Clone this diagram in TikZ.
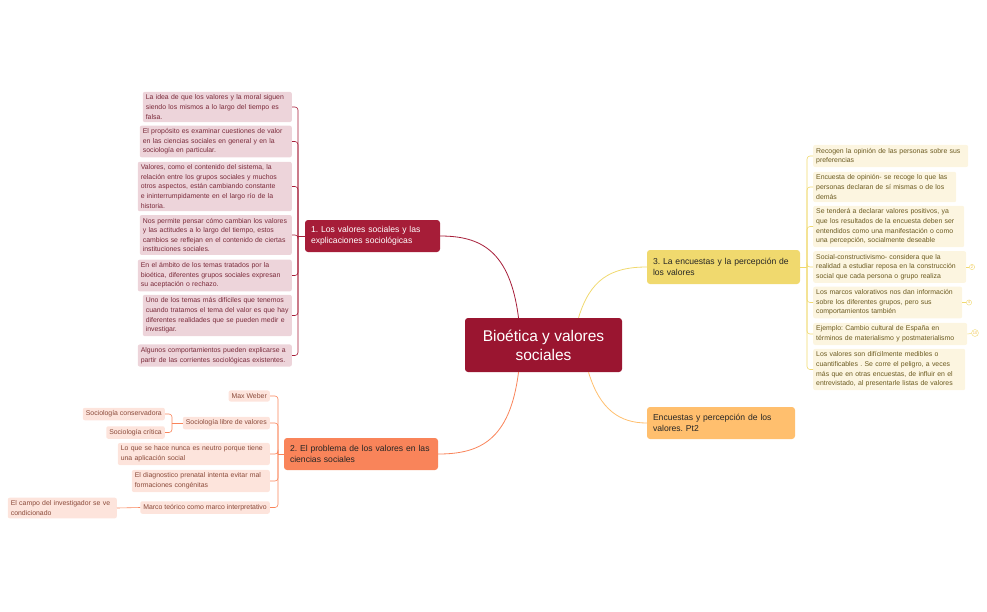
\documentclass[tikz,border=0pt]{standalone}
\usepackage{fontspec}
\setmainfont{Liberation Sans}
\lefthyphenmin=64
\frenchspacing
\definecolor{cred}{HTML}{9A1530}
\definecolor{b1c}{HTML}{A61D38}
\definecolor{b2c}{HTML}{F9845A}
\definecolor{b3c}{HTML}{F0D96E}
\definecolor{b4c}{HTML}{FFBF6E}
\definecolor{lac}{HTML}{EDD4DA}
\definecolor{lat}{HTML}{7A2A3A}
\definecolor{lbc}{HTML}{FDE4DC}
\definecolor{lbt}{HTML}{8A4A3A}
\definecolor{lcc}{HTML}{FCF5E0}
\definecolor{lct}{HTML}{6B5A20}
\begin{document}
\begin{tikzpicture}[x=1pt,y=-1pt,
 leaf/.style={rounded corners=2pt,inner xsep=3pt,inner ysep=3pt,align=left,font=\fontsize{6.9}{9.6}\selectfont\frenchspacing},
 la/.style={leaf,fill=lac,text=lat},
 lb/.style={leaf,fill=lbc,text=lbt},
 lc/.style={leaf,fill=lcc,text=lct},
 br/.style={rounded corners=3pt,inner xsep=6pt,align=left,font=\fontsize{8.6}{11.5}\selectfont\frenchspacing},
 ca/.style={draw=b1c,line width=0.8pt},
 cb/.style={draw=b2c,line width=0.8pt},
 cc/.style={draw=b3c,line width=0.8pt},
 cd/.style={draw=b4c,line width=0.8pt},
 badge/.style={circle,draw=b3c,text=b3c!70!orange,inner sep=0.6pt,font=\fontsize{4}{4}\selectfont,fill=white}]
\useasboundingbox (0,0) rectangle (987,611);
% central
\node[fill=cred,text=white,rounded corners=3pt,minimum width=157,minimum height=54,align=center,font=\fontsize{15.5}{19}\selectfont] (c) at (543.5,345) {Bioética y valores\\sociales};
% branches
\node[br,fill=b1c,text=white,minimum width=135,minimum height=32,text width=123] (b1) at (372.5,236) {1. Los valores sociales y las explicaciones sociológicas};
\node[br,fill=b2c,text=black!85,minimum width=154,minimum height=32,text width=142] (b2) at (361,454) {2. El problema de los valores en las ciencias sociales};
\node[br,fill=b3c,text=black!85,minimum width=153,minimum height=34,text width=141] (b3) at (723.5,267) {3. La encuestas y la percepción de los valores};
\node[br,fill=b4c,text=black!85,minimum width=148,minimum height=32,text width=136] (b4) at (721,423) {Encuestas y percepción de los valores. Pt2};
\draw[ca] (c.north)+(-25,0) .. controls (510,250) and (480,236) .. (b1.east);
\draw[cb] (c.south)+(-25,0) .. controls (510,440) and (480,454) .. (b2.east);
\draw[cc] (c.north)+(35,0) .. controls (590,280) and (610,267) .. (b3.west);
\draw[cd] (c.south)+(45,0) .. controls (600,410) and (620,423) .. (b4.west);
% leaves 1
\node[la,text width=143,anchor=east] (a1) at (292,107) {La idea de que los valores y la moral siguen siendo los mismos a lo largo del tiempo es falsa.};
\node[la,text width=146,anchor=east] (a2) at (292,141.5) {El propósito es examinar cuestiones de valor en las ciencias sociales en general y en la sociología en particular.};
\node[la,text width=148,anchor=east] (a3) at (292,186.5) {Valores, como el contenido del sistema, la relación entre los grupos sociales y muchos otros aspectos, están cambiando constante e ininterrumpidamente en el largo río de la historia.};
\node[la,text width=146,anchor=east] (a4) at (292,235) {Nos permite pensar cómo cambian los valores y las actitudes a lo largo del tiempo, estos cambios se reflejan en el contenido de ciertas instituciones sociales.};
\node[la,text width=148,anchor=east] (a5) at (292,275.5) {En el ámbito de los temas tratados por la bioética, diferentes grupos sociales expresan su aceptación o rechazo.};
\node[la,text width=143,anchor=east] (a6) at (292,315.5) {Uno de los temas más difíciles que tenemos cuando tratamos el tema del valor es que hay diferentes realidades que se pueden medir e investigar.};
\node[la,text width=148,anchor=east] (a7) at (292,355.5) {Algunos comportamientos pueden explicarse a partir de las corrientes sociológicas existentes.};
\draw[ca,line width=0.6pt] (b1.west) -- (298,236);
\foreach \n in {a1,a2,a3,a4,a5,a6,a7}{\draw[ca,line width=0.6pt,rounded corners=3pt] (298,236) |- (\n.east);}
% leaves 2
\node[lb,anchor=east] (m1) at (270,396) {Max Weber};
\node[lb,anchor=east] (m2) at (270,423) {Sociología libre de valores};
\node[lb,anchor=east] (m21) at (165,414) {Sociología conservadora};
\node[lb,anchor=east] (m22) at (165,432.5) {Sociología crítica};
\node[lb,text width=146,anchor=east] (m3) at (270,454) {Lo que se hace nunca es neutro porque tiene una aplicación social};
\node[lb,text width=132,anchor=east] (m4) at (270,481) {El diagnostico prenatal intenta evitar mal formaciones congénitas};
\node[lb,anchor=east] (m5) at (270,507.5) {Marco teórico como marco interpretativo};
\node[lb,text width=103,anchor=east] (m51) at (117,508) {El campo del investigador se ve condicionado};
\draw[cb,line width=0.6pt] (b2.west) -- (278,454);
\foreach \n in {m1,m2,m3,m4,m5}{\draw[cb,line width=0.6pt,rounded corners=3pt] (278,454) |- (\n.east);}
\draw[cb,line width=0.6pt] (m2.west) -- (172,423);
\foreach \n in {m21,m22}{\draw[cb,line width=0.6pt,rounded corners=3pt] (172,423) |- (\n.east);}
\draw[cb,line width=0.6pt] (m5.west) -- (m51.east);
% leaves 3
\node[lc,text width=149,anchor=west] (r1) at (813,156) {Recogen la opinión de las personas sobre sus preferencias};
\node[lc,text width=137,anchor=west] (r2) at (813,187) {Encuesta de opinión- se recoge lo que las personas declaran de sí mismas o de los demás};
\node[lc,text width=145,anchor=west] (r3) at (813,226.5) {Se tenderá a declarar valores positivos, ya que los resultados de la encuesta deben ser entendidos como una manifestación o como una percepción, socialmente deseable};
\node[lc,text width=147,anchor=west] (r4) at (813,267) {Social-constructivismo- considera que la realidad a estudiar reposa en la construcción social que cada persona o grupo realiza};
\node[lc,text width=143,anchor=west] (r5) at (813,302.5) {Los marcos valorativos nos dan información sobre los diferentes grupos, pero sus comportamientos también};
\node[lc,text width=148,anchor=west] (r6) at (813,334) {Ejemplo: Cambio cultural de España en términos de materialismo y postmaterialismo};
\node[lc,text width=146,anchor=west] (r7) at (813,369.5) {Los valores son difícilmente medibles o cuantificables . Se corre el peligro, a veces más que en otras encuestas, de influir en el entrevistado, al presentarle listas de valores};
\draw[cc,line width=0.6pt] (b3.east) -- (807,267);
\foreach \n in {r1,r2,r3,r4,r5,r6,r7}{\draw[cc,line width=0.6pt,rounded corners=3pt] (807,267) |- (\n.west);}
\node[badge] (g1) at (972,267) {2};
\node[badge] (g2) at (969,302.5) {4};
\node[badge] (g3) at (975,333) {10};
\draw[cc,line width=0.5pt] (r4.east) -- (g1);
\draw[cc,line width=0.5pt] (r5.east) -- (g2);
\draw[cc,line width=0.5pt] (r6.east) -- (g3);
\end{tikzpicture}
\end{document}
